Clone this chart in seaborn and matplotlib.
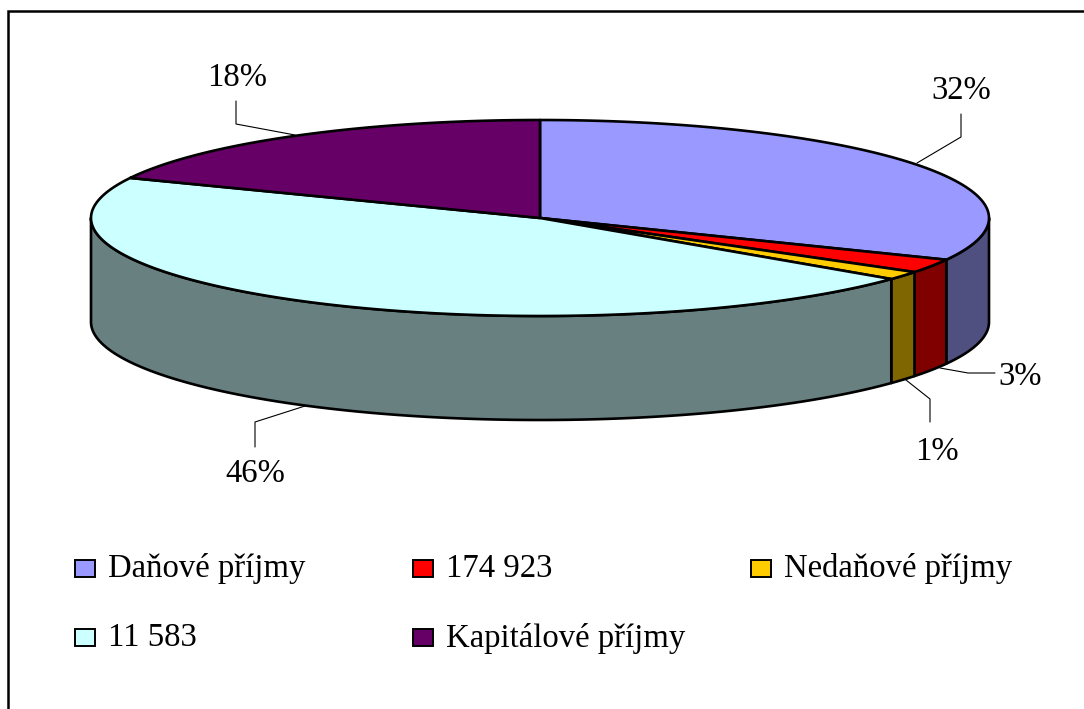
import numpy as np
import pandas as pd
import seaborn as sns
import matplotlib
matplotlib.use("Agg")
import matplotlib.pyplot as plt
from matplotlib.patches import Rectangle

categories = ["Daňové příjmy", "174 923", "Nedaňové příjmy", "11 583", "Kapitálové příjmy"]
shares = [32.0, 2.3, 1.4, 46.0, 18.3]
pct_labels = ["32%", "3%", "1%", "46%", "18%"]
top_colors = ["#9999FF", "#FF0000", "#FFCC00", "#CCFFFF", "#660066"]
side_colors = ["#4F4F80", "#800000", "#806600", "#688080", "#400040"]

W, H = 1084, 709
CX, CY, RX, RY, DEPTH = 540, 218, 449, 98, 104

sns.set_theme(style="white")
plt.rcParams["font.family"] = ["Liberation Serif", "DejaVu Serif"]
df = pd.DataFrame({"category": categories, "share": shares})

fig = plt.figure(figsize=(W / 100, H / 100), dpi=100)
ax = fig.add_axes([0, 0, 1, 1])
ax.set_xlim(0, W)
ax.set_ylim(H, 0)
ax.axis("off")

ax.plot([8, 8, W], [H, 11, 11], color="black", lw=1.8, solid_joinstyle="miter", zorder=1)

cum = np.concatenate([[0], np.cumsum(df["share"].to_numpy())]) / df["share"].sum() * 2 * np.pi


def rim(a0, a1, n=200):
    t = np.linspace(a0, a1, n)
    return CX + RX * np.sin(t), CY - RY * np.cos(t)


# outer walls, visible front half only (90..270 degrees from the top)
for i in range(len(categories)):
    a0, a1 = max(cum[i], np.pi / 2), min(cum[i + 1], 3 * np.pi / 2)
    if a1 <= a0:
        continue
    x, y = rim(a0, a1)
    ax.fill(np.r_[x, x[::-1]], np.r_[y, y[::-1] + DEPTH], facecolor=side_colors[i],
            edgecolor="black", lw=1.9, joinstyle="round", zorder=2)

# top faces
for i in range(len(categories)):
    x, y = rim(cum[i], cum[i + 1])
    ax.fill(np.r_[CX, x], np.r_[CY, y], facecolor=top_colors[i],
            edgecolor="black", lw=1.9, joinstyle="round", zorder=3)

# percentage labels with their leader lines
label_pos = [(961, 91), (1020, 377), (937, 452), (255, 474), (237, 78)]
leaders = [[(917, 163), (961, 137), (961, 114)],
           [(940, 368), (968, 373), (995, 373)],
           [(906, 380), (930, 399), (930, 422)],
           [(305, 406), (255, 422), (255, 447)],
           [(295, 135), (236, 124), (236, 101)]]
for txt, pos, line in zip(pct_labels, label_pos, leaders):
    ax.text(pos[0], pos[1], txt, fontsize=23.5, color="black", ha="center", va="center", zorder=5)
    lx, ly = zip(*line)
    ax.plot(lx, ly, color="black", lw=0.8, zorder=4)

# legend
legend_pos = [(75, 568), (413, 568), (751, 568), (75, 637), (413, 637)]
for name, col, (lx, ly) in zip(categories, top_colors, legend_pos):
    ax.add_patch(Rectangle((lx, ly - 8), 20, 17, facecolor=col, edgecolor="black", lw=1.4, zorder=4))
    ax.text(lx + 33, ly + 1, name, fontsize=23.6, color="black", ha="left", va="center", zorder=5)

fig.savefig("out.png", dpi=100, facecolor="white")
